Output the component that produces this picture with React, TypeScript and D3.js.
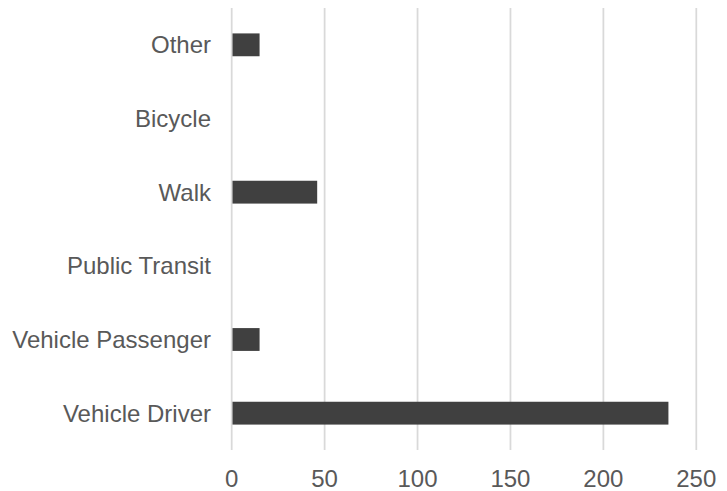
import React from "react";
import * as d3 from "d3";

const categories = ["Other", "Bicycle", "Walk", "Public Transit", "Vehicle Passenger", "Vehicle Driver"];
const values = [15, 0, 46, 0, 15, 235];
const xTicks = [0, 50, 100, 150, 200, 250];

const W = 727;
const H = 491;
const left = 231.7;
const right = 696.3;
const top = 8;
const bottom = 450;

export default function App() {
  const x = d3.scaleLinear().domain([0, 250]).range([left, right]);
  const y = d3
    .scaleBand<string>()
    .domain(categories)
    .range([top, bottom])
    .paddingInner(0.69)
    .paddingOuter(0.345);
  const step = (bottom - top) / categories.length;
  const font = "'Liberation Sans', Arial, Helvetica, sans-serif";
  return (
    <svg
      width={W}
      height={H}
      style={{ position: "absolute", left: 0, top: 0, background: "#fff" }}
    >
      {xTicks.map((t) => (
        <line
          key={"g" + t}
          x1={x(t)}
          x2={x(t)}
          y1={top}
          y2={bottom}
          stroke="#d9d9d9"
          strokeWidth={1.75}
        />
      ))}
      {categories.map((c, i) =>
        values[i] > 0 ? (
          <rect
            key={"b" + c}
            x={x(0) + 0.8}
            y={y(c)!}
            width={x(values[i]) - x(0) - 0.8}
            height={y.bandwidth()}
            fill="#404040"
          />
        ) : null
      )}
      {categories.map((c) => (
        <text
          key={"l" + c}
          x={211}
          y={y(c)! + y.bandwidth() / 2}
          dy="0.35em"
          textAnchor="end"
          fontFamily={font}
          fontSize={24}
          fill="#595959"
        >
          {c}
        </text>
      ))}
      {xTicks.map((t) => (
        <text
          key={"t" + t}
          x={x(t)}
          y={487}
          textAnchor="middle"
          fontFamily={font}
          fontSize={24}
          fill="#595959"
        >
          {t}
        </text>
      ))}
    </svg>
  );
}
